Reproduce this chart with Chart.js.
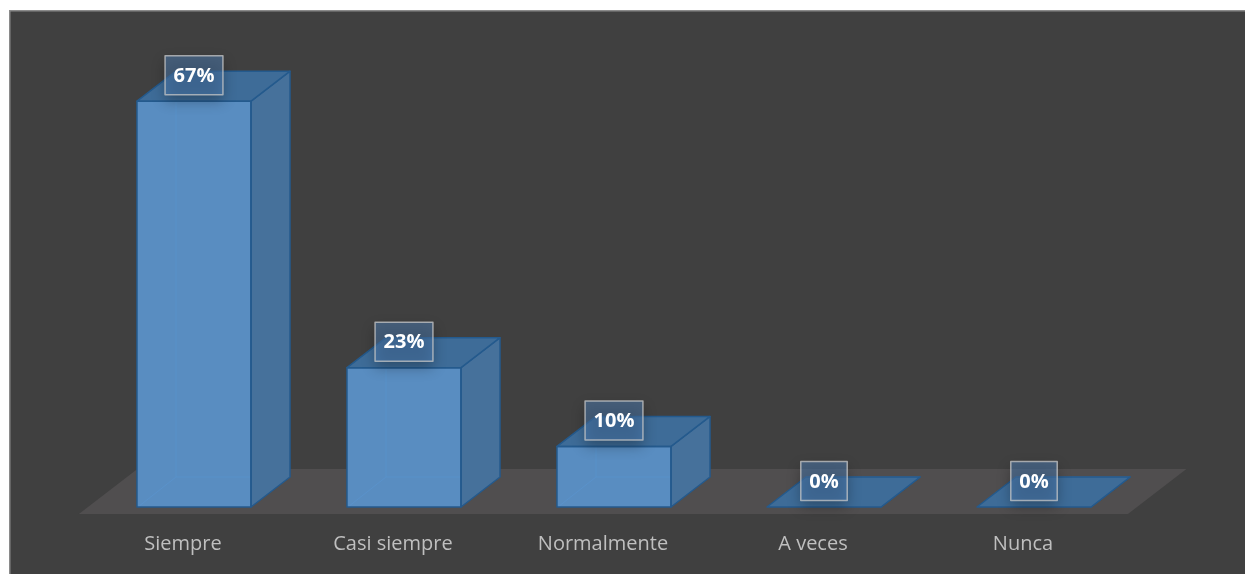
<!DOCTYPE html>
<html>
<head>
<meta charset="utf-8">
<script src="https://cdn.jsdelivr.net/npm/chart.js@4.4.0/dist/chart.umd.min.js"></script>
<style>
  html, body { margin: 0; padding: 0; background: #fff; }
  #wrap { position: relative; width: 1245px; height: 574px; }
</style>
</head>
<body>
<div id="wrap"><canvas id="respuestas" width="1245" height="574"></canvas></div>
<script>
const categorias = ['Siempre', 'Casi siempre', 'Normalmente', 'A veces', 'Nunca'];
const porcentajes = [67, 23, 10, 0, 0];
const escalaMax = 70;

// depth of the 3D boxes (pixels to the back face)
const DX = 39, DY = -30;

const colores = {
  frente: '#598dc1',
  lado: '#46719b',
  tapa: '#3e6c98',
  borde: '#245a8d',
  piso: '#504e4f',
  fondo: '#404040'
};

function poligono(ctx, pts, fill, stroke) {
  ctx.beginPath();
  ctx.moveTo(pts[0][0], pts[0][1]);
  for (let i = 1; i < pts.length; i++) ctx.lineTo(pts[i][0], pts[i][1]);
  ctx.closePath();
  ctx.fillStyle = fill;
  ctx.fill();
  if (stroke) {
    ctx.strokeStyle = stroke;
    ctx.lineWidth = 1.5;
    ctx.lineJoin = 'round';
    ctx.stroke();
  }
}

const barras3d = {
  id: 'barras3d',
  beforeDraw(chart) {
    const { ctx, width, height } = chart;
    ctx.save();
    ctx.fillStyle = '#ffffff';
    ctx.fillRect(0, 0, width, height);
    ctx.fillStyle = colores.fondo;
    ctx.fillRect(9, 10, width - 9, height - 10);
    ctx.strokeStyle = '#8a8a8a';
    ctx.lineWidth = 1.5;
    ctx.beginPath();
    ctx.moveTo(9.75, height);
    ctx.lineTo(9.75, 10.75);
    ctx.lineTo(width, 10.75);
    ctx.stroke();
    ctx.restore();
  },
  beforeDatasetsDraw(chart) {
    // floor under the bars
    const { ctx, chartArea } = chart;
    const base = chart.scales.y.getPixelForValue(0);
    const d0 = -7 / 30, d1 = 38 / 30;
    const l = chartArea.left - 1, r = chartArea.right - 2;
    ctx.save();
    poligono(ctx, [
      [l + DX * d0, base + DY * d0],
      [r + DX * d0, base + DY * d0],
      [r + DX * d1, base + DY * d1],
      [l + DX * d1, base + DY * d1]
    ], colores.piso);
    ctx.restore();
  },
  afterDatasetsDraw(chart) {
    const { ctx } = chart;
    const meta = chart.getDatasetMeta(0);
    ctx.save();
    meta.data.forEach((el, i) => {
      const { x, y, base, width } = el.getProps(['x', 'y', 'base', 'width'], true);
      const l = x - width / 2, r = x + width / 2;

      // hidden back edges seen through the front face
      ctx.strokeStyle = 'rgba(90,150,210,0.55)';
      ctx.lineWidth = 1;
      ctx.beginPath();
      ctx.moveTo(l + 1, base);
      ctx.lineTo(l + DX, base + DY);
      ctx.lineTo(r + DX, base + DY);
      ctx.moveTo(l + DX, base + DY);
      ctx.lineTo(l + DX, y + DY);
      ctx.stroke();

      // right side
      poligono(ctx, [[r, y], [r + DX, y + DY], [r + DX, base + DY], [r, base]], colores.lado, colores.borde);
      // top
      poligono(ctx, [[l, y], [l + DX, y + DY], [r + DX, y + DY], [r, y]], colores.tapa, colores.borde);
      if (porcentajes[i] > 0) {
        ctx.strokeStyle = colores.borde;
        ctx.lineWidth = 1.5;
        ctx.strokeRect(l, y, width, base - y);
      }
    });

    // value labels
    ctx.font = 'bold 20px "Open Sans", sans-serif';
    ctx.textAlign = 'center';
    ctx.textBaseline = 'middle';
    meta.data.forEach((el, i) => {
      const { x, y } = el.getProps(['x', 'y'], true);
      const texto = porcentajes[i] + '%';
      const w = ctx.measureText(texto).width + 17;
      const h = 39;
      const cy = y - 26;
      ctx.save();
      ctx.shadowColor = 'rgba(0,0,0,0.6)';
      ctx.shadowBlur = 14;
      ctx.shadowOffsetY = 6;
      ctx.fillStyle = 'rgba(78,126,180,0.5)';
      ctx.fillRect(x - w / 2, cy - h / 2, w, h);
      ctx.restore();
      ctx.strokeStyle = 'rgba(200,200,200,0.75)';
      ctx.lineWidth = 1.5;
      ctx.strokeRect(x - w / 2, cy - h / 2, w, h);
      ctx.fillStyle = '#ffffff';
      ctx.fillText(texto, x, cy + 1);
    });
    ctx.restore();
  }
};

new Chart(document.getElementById('respuestas'), {
  type: 'bar',
  data: {
    labels: categorias,
    datasets: [{
      data: porcentajes,
      backgroundColor: colores.frente,
      borderColor: colores.borde,
      borderWidth: 0,
      categoryPercentage: 1,
      barPercentage: 0.543
    }]
  },
  options: {
    responsive: false,
    animation: false,
    layout: { padding: { left: 89, right: 106, top: 83, bottom: -7 } },
    plugins: { legend: { display: false }, tooltip: { enabled: false } },
    scales: {
      x: {
        grid: { display: false, drawTicks: false },
        border: { display: false },
        ticks: {
          color: '#bfbfbf',
          padding: 25,
          labelOffset: -11,
          font: { family: '"Open Sans", sans-serif', size: 20 }
        }
      },
      y: { display: false, min: 0, max: escalaMax }
    }
  },
  plugins: [barras3d]
});
</script>
</body>
</html>
